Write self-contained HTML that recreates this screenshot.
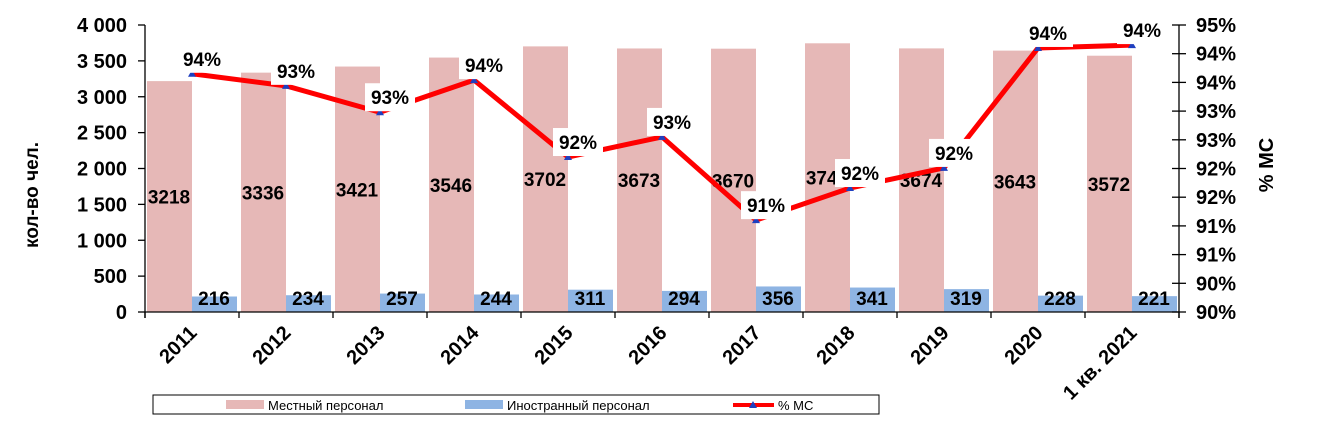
<!DOCTYPE html>
<html><head><meta charset="utf-8"><style>
body{margin:0;background:#fff;}
svg text{font-family:"Liberation Sans",Arial,sans-serif;}
</style></head><body>
<svg width="1319" height="436" viewBox="0 0 1319 436">
<g id="g"></g>
</svg>
<script>
const categories=["2011","2012","2013","2014","2015","2016","2017","2018","2019","2020","1 кв. 2021"];
const localStaff=[3218,3336,3421,3546,3702,3673,3670,3745,3674,3643,3572];
const foreignStaff=[216,234,257,244,311,294,356,341,319,228,221];
const pctMS=[94.15,93.94,93.48,94.04,92.70,93.05,91.60,92.16,92.51,94.60,94.65];
const pctLabels=["94%","93%","93%","94%","92%","93%","91%","92%","92%","94%","94%"];
const leftTicks=[0,500,1000,1500,2000,2500,3000,3500,4000];
const leftTickLabels=["0","500","1 000","1 500","2 000","2 500","3 000","3 500","4 000"];
const rightTicks=[90,90.5,91,91.5,92,92.5,93,93.5,94,94.5,95];
const rightTickLabels=["90%","90%","91%","91%","92%","92%","93%","93%","94%","94%","95%"];

const NS="http://www.w3.org/2000/svg";
const g=document.getElementById('g');
const X0=145,X1=1179,Y0=312,YT=25;
const cw=(X1-X0)/categories.length;
const yL=v=>Y0-(v/4000)*(Y0-YT);
const yR=v=>Y0-((v-90)/5)*(Y0-YT);
const cx=i=>X0+cw*i+cw/2;
function mk(t,a,txt){const e=document.createElementNS(NS,t);for(const k in a)e.setAttribute(k,a[k]);if(txt!==undefined)e.textContent=txt;g.appendChild(e);return e;}

categories.forEach((c,i)=>{
  const x=X0+cw*i+2;
  const b1=mk('rect',{x:x,y:yL(localStaff[i]),width:45,height:Y0-yL(localStaff[i]),fill:'#e6b8b7'});
  
  
  const b2=mk('rect',{x:x+45,y:yL(foreignStaff[i]),width:45,height:Y0-yL(foreignStaff[i]),fill:'#8eb4e3'});
  
  
});
mk('line',{x1:X0,y1:YT,x2:X0,y2:Y0+6,stroke:'#000','stroke-width':1.3});
mk('line',{x1:X1,y1:YT,x2:X1,y2:Y0+6,stroke:'#000','stroke-width':1.3});
mk('line',{x1:X0,y1:Y0,x2:X1,y2:Y0,stroke:'#000','stroke-width':1.3});
for(let i=0;i<=categories.length;i++){mk('line',{x1:X0+cw*i,y1:Y0,x2:X0+cw*i,y2:Y0+6,stroke:'#000','stroke-width':1.3});}
leftTicks.forEach((v,i)=>{
  mk('line',{x1:X0-7,y1:yL(v),x2:X0,y2:yL(v),stroke:'#000','stroke-width':1.3});
  const t=mk('text',{x:127,y:yL(v)+7,'text-anchor':'end','font-size':20,'font-weight':'bold'},leftTickLabels[i]);
  
  
});
rightTicks.forEach((v,i)=>{
  mk('line',{x1:X1-7,y1:yR(v),x2:X1+7,y2:yR(v),stroke:'#000','stroke-width':1.3});
  const t=mk('text',{x:1196,y:yR(v)+7,'font-size':20,'font-weight':'bold'},rightTickLabels[i]);
  
  
});
categories.forEach((c,i)=>{
  const t=mk('text',{x:cx(i)+6,y:Y0+22,'text-anchor':'end','font-size':20,'font-weight':'bold',transform:`rotate(-45 ${cx(i)+6} ${Y0+22})`},c);
  
  
});
categories.forEach((c,i)=>{
  const x=X0+cw*i+2;
  const t1=mk('text',{x:x+22,y:(yL(localStaff[i])+Y0)/2+7,'text-anchor':'middle','font-size':19,'font-weight':'bold'},localStaff[i]);
  
  
  const t2=mk('text',{x:x+67,y:Y0-7,'text-anchor':'middle','font-size':19,'font-weight':'bold'},foreignStaff[i]);
  
  
});
const pts=pctMS.map((v,i)=>cx(i)+','+yR(v)).join(' ');
const pl=mk('polyline',{points:pts,fill:'none',stroke:'#ff0000','stroke-width':5,'stroke-linejoin':'miter'});


pctMS.forEach((v,i)=>{
  const m=mk('path',{d:`M${cx(i)-4},${yR(v)+3} L${cx(i)+4},${yR(v)+3} L${cx(i)},${yR(v)-4} Z`,fill:'#1f3fbf'});
  
  
});
pctMS.forEach((v,i)=>{
  const lx=cx(i)+10, ly=yR(v)-29;
  const r=mk('rect',{x:lx-25,y:ly,width:50,height:28,fill:'#fff'});
  
  
  const t=mk('text',{x:lx,y:ly+21,'text-anchor':'middle','font-size':19,'font-weight':'bold'},pctLabels[i]);
  
  
});
const at=mk('text',{x:38,y:195,'font-size':19,'font-weight':'bold',transform:'rotate(-90 38 195)','text-anchor':'middle'},'кол-во чел.');


const rt=mk('text',{x:1273,y:165,'font-size':20,'font-weight':'bold',transform:'rotate(-90 1273 165)','text-anchor':'middle'},'% МС');


const lg=mk('rect',{x:153,y:395,width:726,height:19,fill:'#fff',stroke:'#000','stroke-width':1});


mk('rect',{x:226,y:400,width:38,height:9,fill:'#e6b8b7'});
mk('text',{x:268,y:410,'font-size':13},'Местный персонал');
mk('rect',{x:465,y:400,width:38,height:9,fill:'#8eb4e3'});
mk('text',{x:507,y:410,'font-size':13},'Иностранный персонал');
mk('line',{x1:733,y1:405,x2:774,y2:405,stroke:'#ff0000','stroke-width':4});
mk('path',{d:'M749,408 L757,408 L753,401 Z',fill:'#1f3fbf'});
mk('text',{x:778,y:410,'font-size':13},'% МС');
</script>
</body></html>
